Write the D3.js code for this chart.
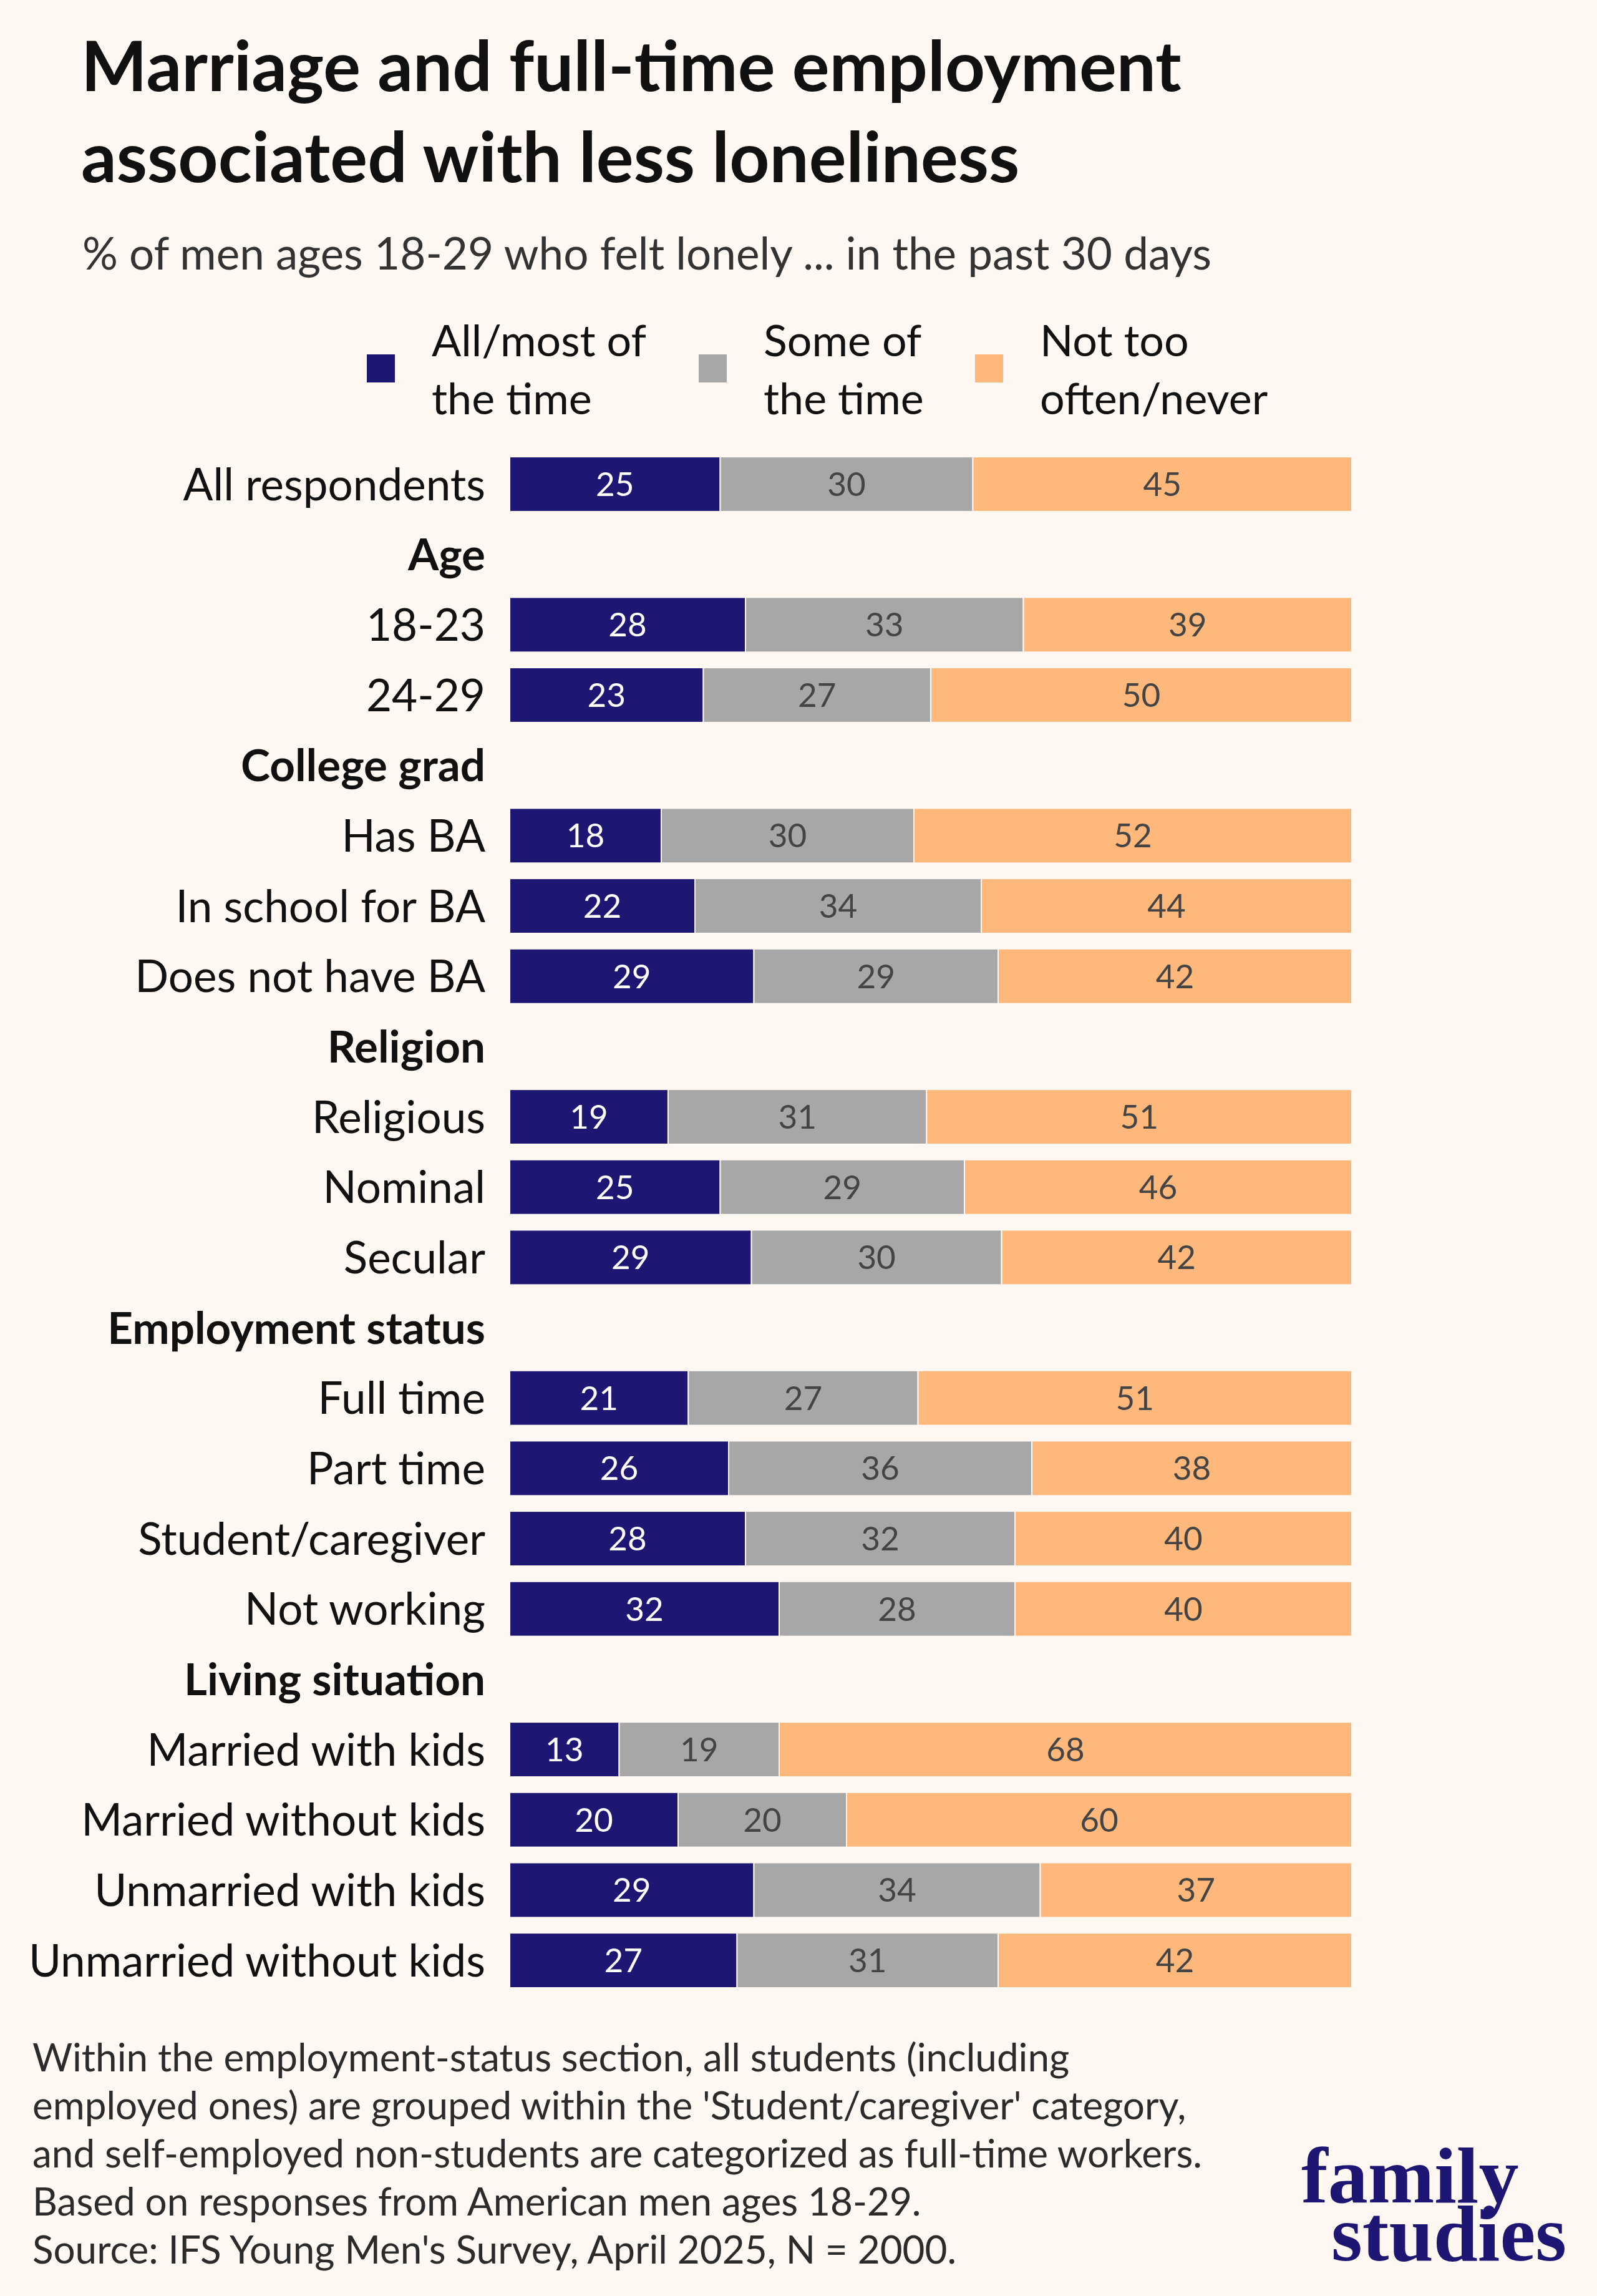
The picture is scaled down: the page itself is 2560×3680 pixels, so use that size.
<!DOCTYPE html>
<html>
<head>
<meta charset="utf-8">
<script src="https://cdn.jsdelivr.net/npm/d3@7"></script>
<style>
  body { margin: 0; background: #fef7f2; }
  svg { display: block; font-family: Lato, "Open Sans", sans-serif; }
</style>
</head>
<body>
<script>
var rowLabels = ["All respondents", "Age", "18-23", "24-29", "College grad", "Has BA",
                 "In school for BA", "Does not have BA", "Religion", "Religious", "Nominal",
                 "Secular", "Employment status", "Full time", "Part time", "Student/caregiver",
                 "Not working", "Living situation", "Married with kids", "Married without kids",
                 "Unmarried with kids", "Unmarried without kids"];
var headerLabels = ["Age", "College grad", "Religion", "Employment status", "Living situation"];

var allMost  = [25, null, 28, 23, null, 18, 22, 29, null, 19, 25, 29, null, 21, 26, 28, 32, null, 13, 20, 29, 27];
var someOf   = [30, null, 33, 27, null, 30, 34, 29, null, 31, 29, 30, null, 27, 36, 32, 28, null, 19, 20, 34, 31];
var notOften = [45, null, 39, 50, null, 52, 44, 42, null, 51, 46, 42, null, 51, 38, 40, 40, null, 68, 60, 37, 42];

var seriesNames = [["All/most of", "the time"], ["Some of", "the time"], ["Not too", "often/never"]];
var seriesColors = ["#1d1672", "#a7a7a7", "#ffb87b"];
var labelColors = ["#ffffff", "#444444", "#444444"];

var footLines = [
  "Within the employment-status section, all students (including",
  "employed ones) are grouped within the 'Student/caregiver' category,",
  "and self-employed non-students are categorized as full-time workers.",
  "Based on responses from American men ages 18-29.",
  "Source: IFS Young Men's Survey, April 2025, N = 2000."
];

(function() {

  var width = 2560, height = 3680,
      series = [allMost, someOf, notOften],
      svg, x, y, rows, stacked;

  svg = d3.select("body").append("svg")
      .attr("width", width)
      .attr("height", height);

  svg.append("rect")
      .attr("width", width).attr("height", height)
      .attr("fill", "#fef7f2");

  // title + subtitle
  svg.append("text")
      .attr("x", 130).attr("y", 146)
      .attr("font-size", 112).attr("font-weight", 700).attr("fill", "#111")
      .text("Marriage and full-time employment");
  svg.append("text")
      .attr("x", 130).attr("y", 292)
      .attr("font-size", 112).attr("font-weight", 700).attr("fill", "#111")
      .text("associated with less loneliness");
  svg.append("text")
      .attr("x", 132).attr("y", 432)
      .attr("font-size", 71).attr("fill", "#333")
      .text("% of men ages 18-29 who felt lonely ... in the past 30 days");

  // legend
  var legendX = [588, 1120, 1563],
      legend = svg.append("g").selectAll("g")
        .data(seriesNames)
        .enter().append("g")
          .attr("transform", function(d, i) { return "translate(" + legendX[i] + ",0)"; });

  legend.append("rect")
      .attr("x", 0).attr("y", 568)
      .attr("width", 45).attr("height", 45)
      .attr("fill", function(d, i) { return seriesColors[i]; });

  legend.append("text")
      .attr("x", 104).attr("y", 571)
      .attr("font-size", 70).attr("fill", "#111")
    .selectAll("tspan")
      .data(function(d) { return d; })
      .enter().append("tspan")
        .attr("x", 104)
        .attr("dy", function(d, i) { return i ? 93 : 0; })
        .text(function(d) { return d; });

  // scales
  var step = 112.67;
  y = d3.scaleBand()
      .domain(rowLabels)
      .range([776 - step / 2, 776 - step / 2 + step * rowLabels.length])
      .paddingInner(0.22)
      .paddingOuter(0.11);

  x = d3.scaleLinear().domain([0, 100]).range([817, 2167]);

  // row labels
  svg.append("g").selectAll("text")
      .data(rowLabels)
      .enter().append("text")
        .attr("x", 778)
        .attr("y", function(d) { return y(d) + y.bandwidth() / 2; })
        .attr("dy", "0.36em")
        .attr("text-anchor", "end")
        .attr("font-size", 71)
        .attr("font-weight", function(d) { return headerLabels.indexOf(d) >= 0 ? 700 : 400; })
        .attr("fill", "#111")
        .text(function(d) { return d; });

  // stacked segments, normalised to 100 per row
  rows = rowLabels.map(function(label, r) {
    var total = d3.sum(series, function(s) { return s[r]; }), acc = 0;
    if (allMost[r] === null) return [];
    return series.map(function(s, i) {
      var seg = { label: label, i: i, value: s[r], x0: acc / total * 100 };
      acc += s[r];
      seg.x1 = acc / total * 100;
      return seg;
    });
  });
  stacked = d3.merge(rows);

  var segs = svg.append("g").selectAll("g")
      .data(stacked)
      .enter().append("g");

  segs.append("rect")
      .attr("x", function(d) { return x(d.x0); })
      .attr("y", function(d) { return y(d.label); })
      .attr("width", function(d) { return x(d.x1) - x(d.x0); })
      .attr("height", y.bandwidth())
      .attr("fill", function(d) { return seriesColors[d.i]; })
      .attr("stroke", "#fef7f2")
      .attr("stroke-width", 2);

  segs.append("text")
      .attr("x", function(d) { return (x(d.x0) + x(d.x1)) / 2; })
      .attr("y", function(d) { return y(d.label) + y.bandwidth() / 2; })
      .attr("dy", "0.36em")
      .attr("text-anchor", "middle")
      .attr("font-size", 53)
      .attr("fill", function(d) { return labelColors[d.i]; })
      .text(function(d) { return d.value; });

  // footnote
  svg.append("g").selectAll("text")
      .data(footLines)
      .enter().append("text")
        .attr("x", 52)
        .attr("y", function(d, i) { return 3320 + i * 77; })
        .attr("font-size", 62)
        .attr("fill", "#2b2b2b")
        .text(function(d) { return d; });

  // logo
  var logo = svg.append("g")
      .attr("font-family", "'Liberation Serif', 'DejaVu Serif', serif")
      .attr("font-weight", 700)
      .attr("font-size", 128)
      .attr("fill", "#1d1672");
  logo.append("text").attr("x", 2086).attr("y", 3530).text("family");
  logo.append("text").attr("x", 2134).attr("y", 3623).text("studies");

}());
</script>
</body>
</html>
